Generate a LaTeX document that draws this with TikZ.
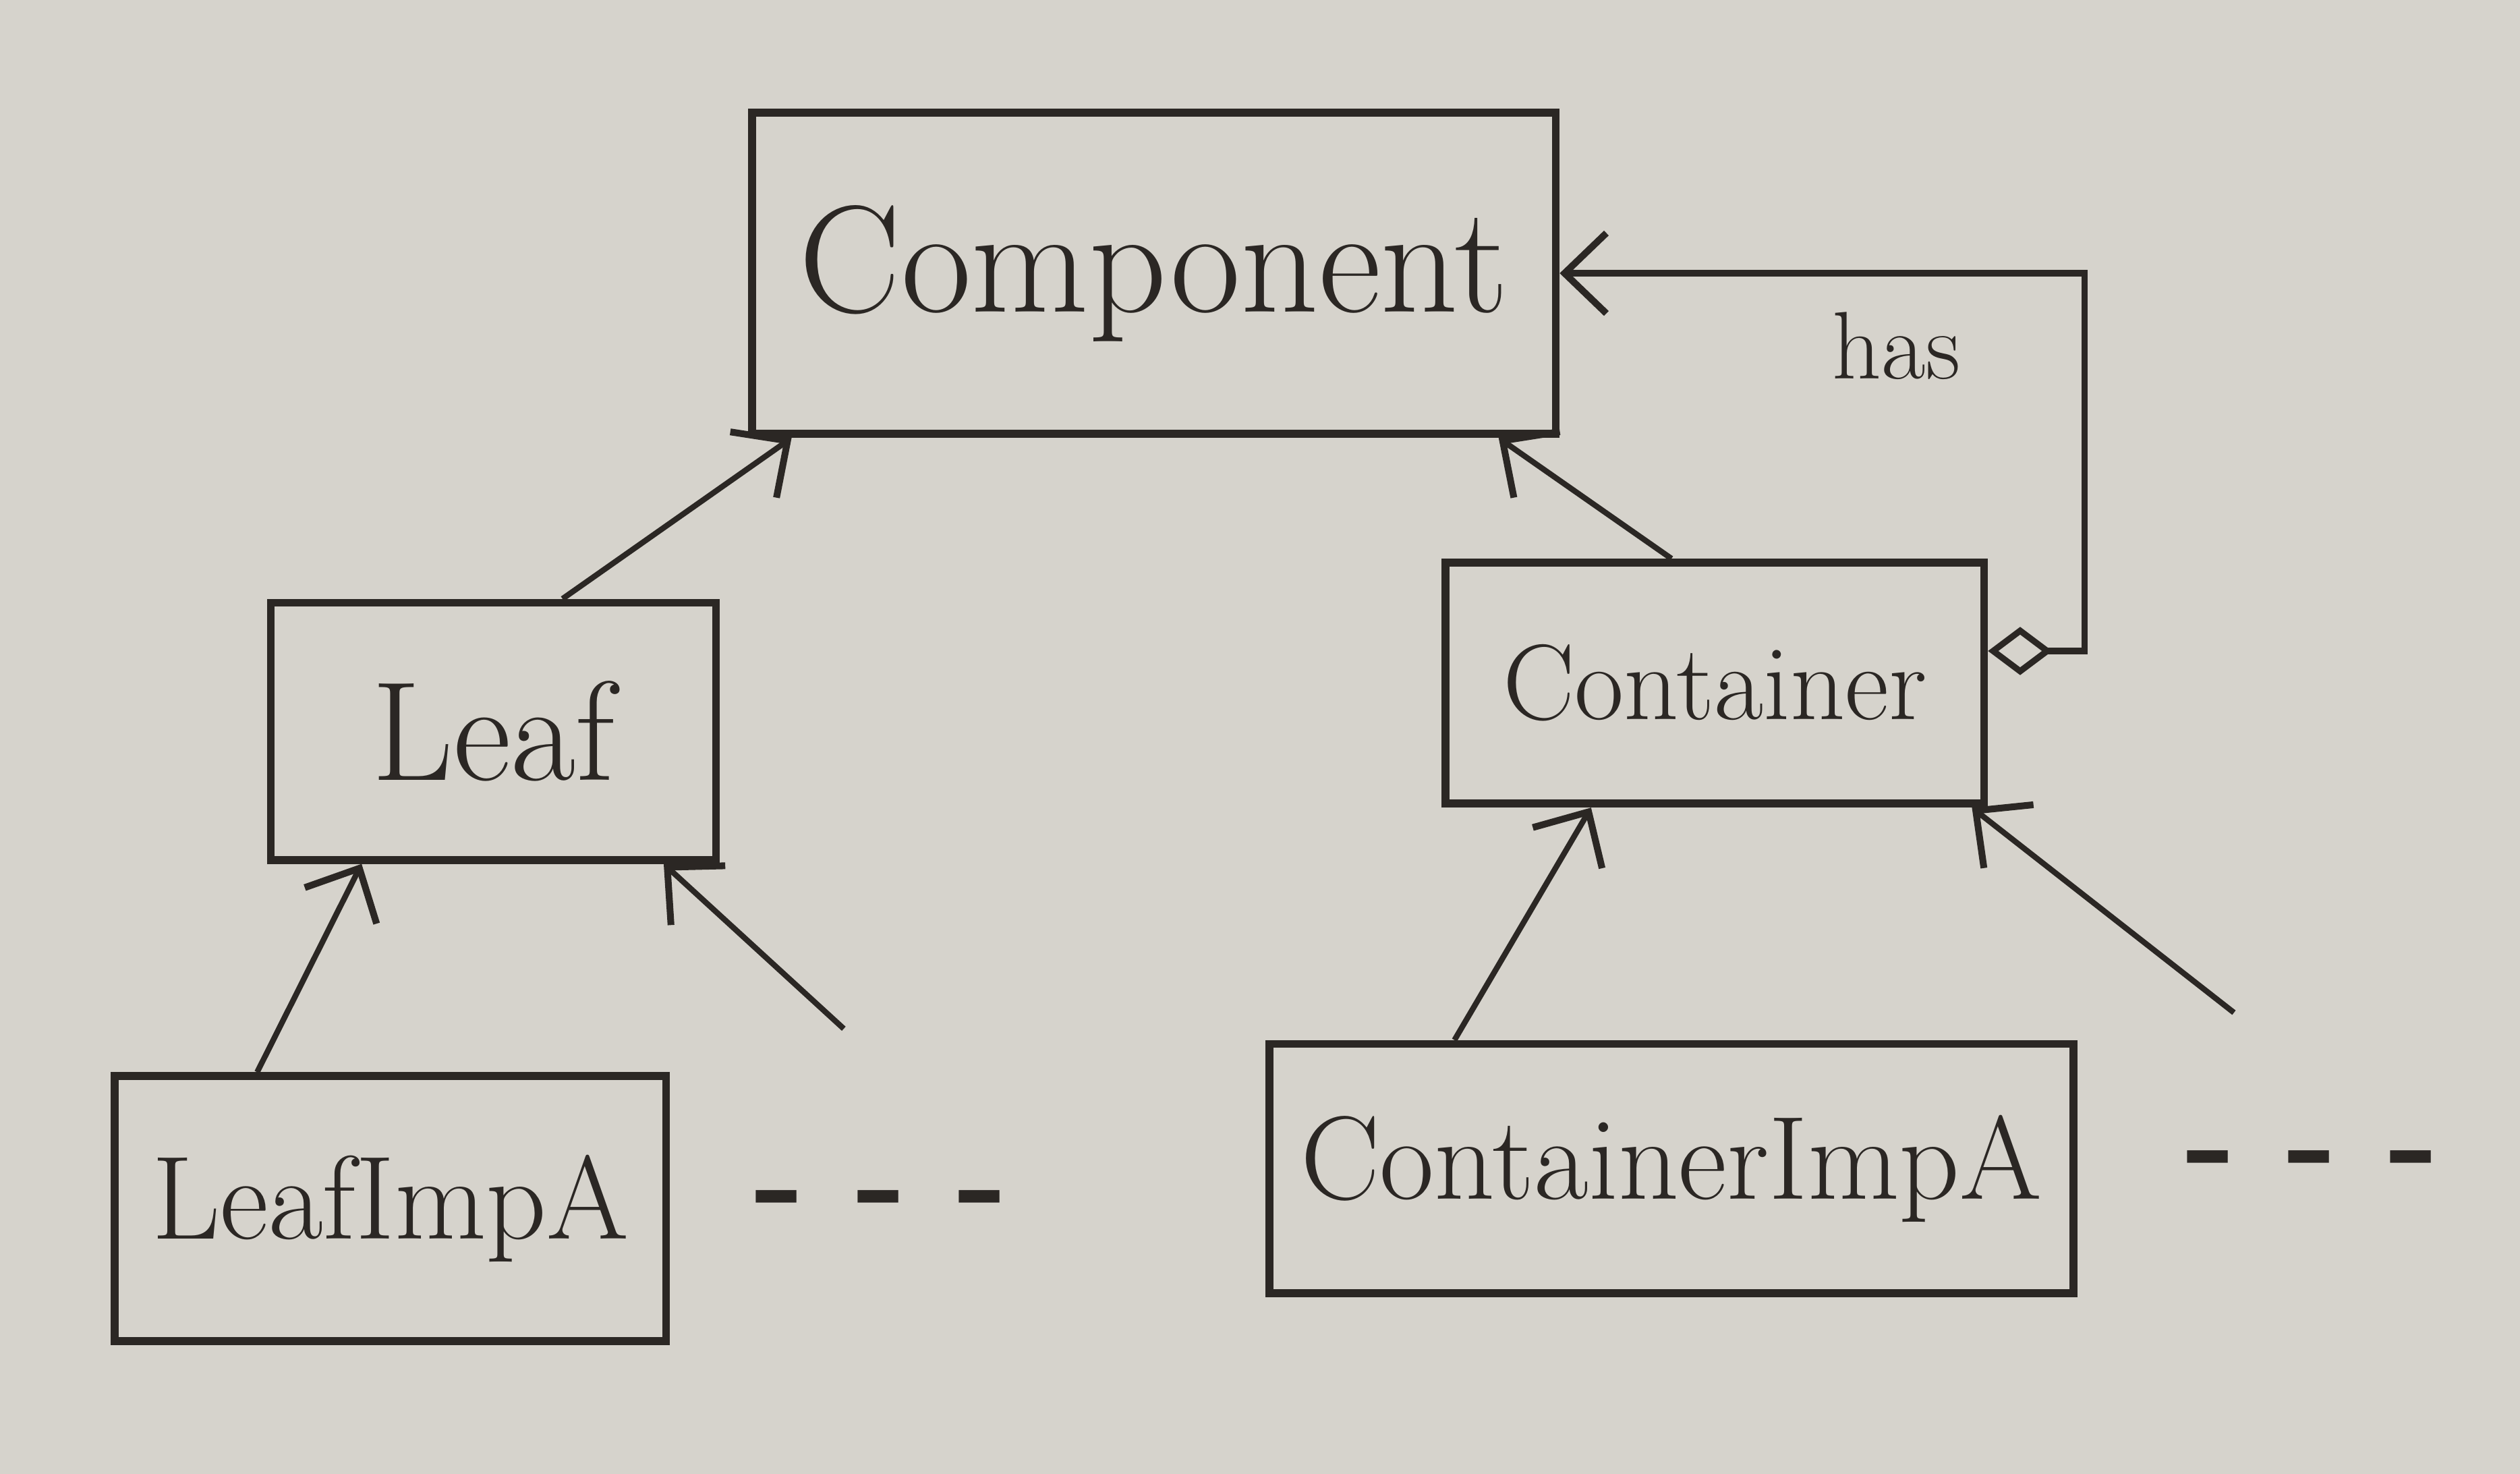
\documentclass[tikz,border=0pt]{standalone}
\usepackage{xcolor}
\usepackage{tikz}
\usetikzlibrary{positioning, arrows.meta}

\definecolor{paper}{HTML}{D6D3CC}
\definecolor{ink}{HTML}{2B2724}

\begin{document}
\begin{tikzpicture}[
                cls/.style={
                        draw=ink,
                        line width=1.4pt,
                        text=ink,
                        inner sep=0pt,
                        align=center
                    },
                inherit/.style={
                        draw=ink,
                        line width=1pt,
                        -{Straight Barb[length=2.6mm, width=5mm, line width=1.2pt]}
                    },
                has/.style={
                        draw=ink,
                        line width=1.1pt,
                        {Diamond[open, length=4mm, width=3mm, line width=1.1pt]}-{Straight Barb[length=2.6mm, width=5mm, line width=1.2pt]}
                    }
            ]

            \fill[paper] (0,0) rectangle (15.68,9.17);
            \useasboundingbox (0,0) rectangle (15.68,9.17);


            \node[cls, minimum width=5cm, minimum height=2cm, font=\fontsize{27}{30}\selectfont] (component) at (7.18,7.47) {Component};
            \node[cls, minimum width=2.77cm, minimum height=1.6cm, font=\fontsize{25}{28}\selectfont] (leaf) at (3.07,4.62) {Leaf};
            \node[cls, minimum width=3.35cm, minimum height=1.5cm, font=\fontsize{19}{22}\selectfont] (container) at (10.67,4.92) {Container};
            \node[cls, minimum width=3.43cm, minimum height=1.65cm, font=\fontsize{21}{24}\selectfont] (leafimpa) at (2.43,1.65) {LeafImpA};
            \node[cls, minimum width=5cm, minimum height=1.55cm, font=\fontsize{21}{24}\selectfont] (containerimpa) at (10.40,1.90) {ContainerImpA};

            \node[text=ink, font=\bfseries\fontsize{24}{26}\selectfont] (leafdots) [right=0.4cm of leafimpa] {- - -};
            \node[text=ink, font=\bfseries\fontsize{24}{26}\selectfont] (containerdots) [right=0.55cm of containerimpa] {- - -};
            \node[text=ink, font=\fontsize{17}{20}\selectfont] (haslabel) at (11.8,7.02) {has};

            \coordinate (leafmore) at (5.25,2.77);
            \coordinate (containermore) at (13.9,2.87);


            \draw[inherit] ([xshift=0.43cm]leaf.north) -- ([xshift=0.27cm]component.south west);
            \draw[inherit] ([xshift=-0.27cm]container.north) -- ([xshift=-0.38cm]component.south east);
            \draw[has] ([yshift=0.2cm]container.east) -- ++(0.6,0) |- (component.east);

            \draw[inherit] ([xshift=-0.83cm]leafimpa.north) -- ([xshift=-0.82cm]leaf.south);
            \draw[inherit] (leafmore) -- ([xshift=-0.35cm]leaf.south east);
            \draw[inherit] ([xshift=-1.35cm]containerimpa.north) -- ([xshift=-0.77cm]container.south);
            \draw[inherit] (containermore) -- ([xshift=-0.1cm]container.south east);


        \end{tikzpicture}
\end{document}
